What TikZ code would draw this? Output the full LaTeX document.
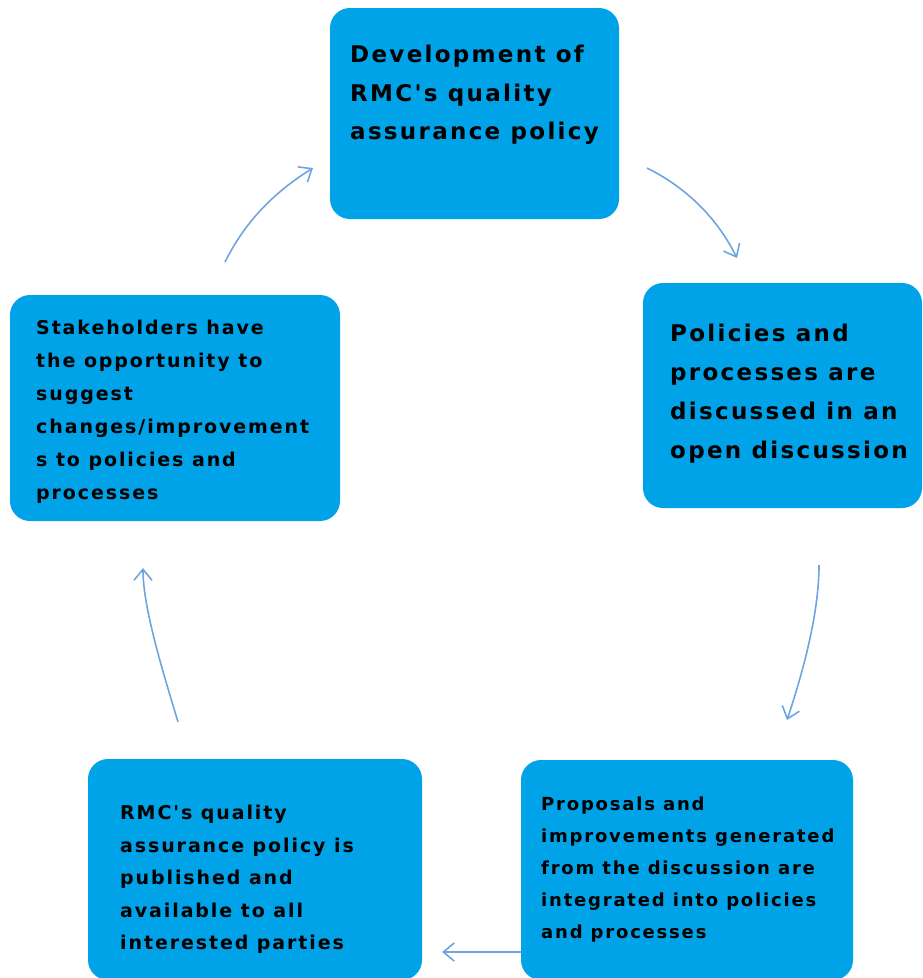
\documentclass[tikz,border=0pt]{standalone}
\usepackage{fontspec}
\setmainfont{DejaVu Sans}
\newfontfamily\stepfont{DejaVu Sans}[LetterSpace=10]
\usetikzlibrary{arrows.meta}
\usepackage{xcolor}
\definecolor{boxblue}{RGB}{0,162,232}
\definecolor{arrowblue}{RGB}{110,165,225}

\tikzset{
  stepbox/.style={rectangle, fill=boxblue, rounded corners=20pt, inner sep=0pt},
  steptext/.style={anchor=north west, inner sep=0pt, align=left},
  flowarrow/.style={draw=arrowblue, line width=1.6pt, -{Straight Barb[length=11pt,width=18pt]}}
}

\begin{document}
\begin{tikzpicture}[x=1pt,y=-1pt]
          % Canvas
          \useasboundingbox (0,0) rectangle (923,978);
          \clip (0,0) rectangle (923,978);

          % Boxes
          \node[stepbox, minimum width=289pt, minimum height=211pt] (dev)   at (474.5,113.5) {};
          \node[stepbox, minimum width=279pt, minimum height=225pt] (disc)  at (782.5,395.5) {};
          \node[stepbox, minimum width=332pt, minimum height=220pt] (prop)  at (687,870) {};
          \node[stepbox, minimum width=334pt, minimum height=221pt] (publ)  at (255,869.5) {};
          \node[stepbox, minimum width=330pt, minimum height=226pt] (stake) at (175,408) {};

          % Texts
          \node[steptext, font=\stepfont\bfseries\fontsize{23}{38.5}\selectfont] (devtext) at (350,45)
            {Development of\\RMC's quality\\assurance policy};
          \node[steptext, font=\stepfont\bfseries\fontsize{23}{39}\selectfont] (disctext) at (670,324)
            {Policies and\\processes are\\discussed in an\\open discussion};
          \node[steptext, font=\stepfont\bfseries\fontsize{18}{32}\selectfont] (proptext) at (541,797)
            {Proposals and\\improvements generated\\from the discussion are\\integrated into policies\\and processes};
          \node[steptext, font=\stepfont\bfseries\fontsize{19}{32.5}\selectfont] (publtext) at (120,805)
            {RMC's quality\\assurance policy is\\published and\\available to all\\interested parties};
          \node[steptext, font=\stepfont\bfseries\fontsize{19}{33}\selectfont] (staketext) at (36,320)
            {Stakeholders have\\the opportunity to\\suggest\\changes/improvement\\s to policies and\\processes};

          % Arrow ends
          \coordinate (a1s) at (225,262);
          \coordinate (a1e) at (313,168);
          \coordinate (a2s) at (647,168);
          \coordinate (a2e) at (737,258);
          \coordinate (a3s) at (819,565);
          \coordinate (a3e) at (787,720);
          \coordinate (a4s) at (prop.west |- 0,952);
          \coordinate (a4e) at (442,952);
          \coordinate (a5s) at (178,722);
          \coordinate (a5e) at (143,568);

          % Arrows
          \draw[flowarrow] (a1s) .. controls +(20,-40) and +(-40,25) .. (a1e);
          \draw[flowarrow] (a2s) .. controls +(40,20) and +(-20,-40) .. (a2e);
          \draw[flowarrow] (a3s) .. controls +(0,50) and +(15,-45) .. (a3e);
          \draw[flowarrow] (a4s) -- (a4e);
          \draw[flowarrow] (a5s) .. controls +(-15,-50) and +(0,40) .. (a5e);

\end{tikzpicture}
\end{document}
